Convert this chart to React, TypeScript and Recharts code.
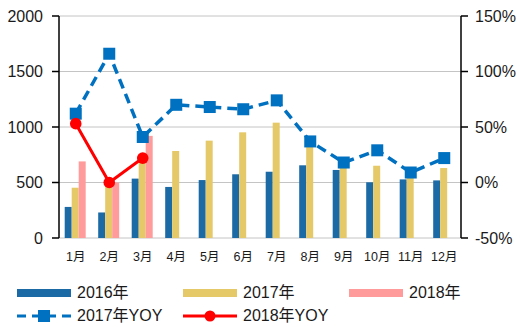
import { ComposedChart, Bar, Line, XAxis, YAxis, CartesianGrid } from 'recharts'

const MONTHS = ['1月', '2月', '3月', '4月', '5月', '6月', '7月', '8月', '9月', '10月', '11月', '12月']
const SALES_2016 = [280, 230, 535, 460, 522, 574, 597, 655, 613, 502, 528, 519]
const SALES_2017 = [453, 497, 755, 784, 877, 952, 1039, 897, 723, 651, 577, 630]
const SALES_2018 = [690, 500, 920]
const YOY_2017 = [62, 116, 41, 70, 68, 66, 74, 37, 18, 29, 9, 22]
const YOY_2018 = [53, 0, 22]

const LEFT_TICKS = [0, 500, 1000, 1500, 2000]
const RIGHT_TICKS = [-50, 0, 50, 100, 150]
const EDGE_TICKS = [0, 1, 2, 3, 4, 5, 6, 7, 8, 9, 10, 11, 12]

const data = MONTHS.map((month, i) => ({
  month,
  s2016: SALES_2016[i],
  s2017: SALES_2017[i],
  s2018: i < SALES_2018.length ? SALES_2018[i] : null,
  y2017: YOY_2017[i],
  y2018: i < YOY_2018.length ? YOY_2018[i] : null,
}))

const BLUE_BAR = '#1B6AA5'
const YELLOW = '#E5C867'
const PINK = '#FF9B9B'
const BLUE_LINE = '#0070C0'
const RED = '#FF0000'
const FONT = "'Liberation Sans', Arial, 'Noto Sans CJK SC', sans-serif"
const TEXT = '#1a1a1a'

const SquareDot = (props: any) => {
  const { cx, cy } = props
  if (cx == null || cy == null) return null
  return <rect x={cx - 6} y={cy - 6} width={12} height={12} fill={BLUE_LINE} />
}

function LegendItem({ kind, color, label }: { kind: string; color: string; label: string }) {
  let swatch
  if (kind === 'bar') {
    swatch = <rect x={0} y={6} width={54} height={8} fill={color} />
  } else if (kind === 'dash') {
    swatch = (
      <g>
        <line x1={0} y1={10} x2={54} y2={10} stroke={color} strokeWidth={3} strokeDasharray="9 6" />
        <rect x={21} y={4} width={12} height={12} fill={color} />
      </g>
    )
  } else {
    swatch = (
      <g>
        <line x1={0} y1={10} x2={54} y2={10} stroke={color} strokeWidth={3} />
        <circle cx={27} cy={10} r={5.5} fill={color} />
      </g>
    )
  }
  return (
    <div style={{ display: 'flex', alignItems: 'center', width: 166, height: 20 }}>
      <svg width={54} height={20} style={{ display: 'block' }}>{swatch}</svg>
      <span style={{ marginLeft: 6, fontSize: 16, lineHeight: '20px', color: TEXT, fontFamily: FONT }}>{label}</span>
    </div>
  )
}

export default function App() {
  return (
    <div style={{ position: 'absolute', left: 0, top: 0, width: 520, height: 327, background: '#fff', overflow: 'hidden' }}>
      <ComposedChart
        width={520}
        height={327}
        data={data}
        margin={{ top: 16, right: 0, bottom: 59, left: 0 }}
        barCategoryGap="17%"
        barGap={0}
      >
        <CartesianGrid xAxisId="cat" yAxisId="left" vertical={false} stroke="#C4C4C4" />
        <XAxis
          xAxisId="edge"
          type="number"
          domain={[0, 12]}
          ticks={EDGE_TICKS}
          tick={false}
          tickSize={5}
          height={0}
          axisLine={{ stroke: '#000', strokeWidth: 1.5 }}
          tickLine={{ stroke: '#000', strokeWidth: 1.5 }}
        />
        <XAxis
          xAxisId="cat"
          dataKey="month"
          axisLine={false}
          tickLine={false}
          tickSize={6}
          tickMargin={8}
          height={30}
          interval={0}
          tick={{ fill: TEXT, fontSize: 12.5, fontFamily: FONT }}
        />
        <YAxis
          yAxisId="left"
          domain={[0, 2000]}
          ticks={LEFT_TICKS}
          width={59}
          tickSize={7}
          tickMargin={9}
          axisLine={{ stroke: '#000', strokeWidth: 1.5 }}
          tickLine={{ stroke: '#000', strokeWidth: 1.5 }}
          tick={{ fill: TEXT, fontSize: 16, fontFamily: FONT }}
        />
        <YAxis
          yAxisId="right"
          orientation="right"
          domain={[-50, 150]}
          ticks={RIGHT_TICKS}
          width={59}
          tickSize={7}
          tickMargin={7}
          tickFormatter={(v) => `${v}%`}
          axisLine={{ stroke: '#000', strokeWidth: 1.5 }}
          tickLine={{ stroke: '#000', strokeWidth: 1.5 }}
          tick={{ fill: TEXT, fontSize: 16, fontFamily: FONT }}
        />
        <Bar xAxisId="cat" yAxisId="left" dataKey="s2016" fill={BLUE_BAR} isAnimationActive={false} />
        <Bar xAxisId="cat" yAxisId="left" dataKey="s2017" fill={YELLOW} isAnimationActive={false} />
        <Bar xAxisId="cat" yAxisId="left" dataKey="s2018" fill={PINK} isAnimationActive={false} />
        <Line
          xAxisId="cat"
          yAxisId="right"
          dataKey="y2017"
          stroke={BLUE_LINE}
          strokeWidth={3.5}
          strokeDasharray="10 6"
          dot={<SquareDot />}
          activeDot={false}
          isAnimationActive={false}
        />
        <Line
          xAxisId="cat"
          yAxisId="right"
          dataKey="y2018"
          stroke={RED}
          strokeWidth={3}
          dot={{ r: 5.8, fill: RED, stroke: RED, strokeWidth: 0 }}
          activeDot={false}
          connectNulls={false}
          isAnimationActive={false}
        />
      </ComposedChart>
      <div style={{ position: 'absolute', left: 17, top: 283, display: 'flex' }}>
        <LegendItem kind="bar" color={BLUE_BAR} label="2016年" />
        <LegendItem kind="bar" color={YELLOW} label="2017年" />
        <LegendItem kind="bar" color={PINK} label="2018年" />
      </div>
      <div style={{ position: 'absolute', left: 17, top: 306, display: 'flex' }}>
        <LegendItem kind="dash" color={BLUE_LINE} label="2017年YOY" />
        <LegendItem kind="line" color={RED} label="2018年YOY" />
      </div>
    </div>
  )
}
